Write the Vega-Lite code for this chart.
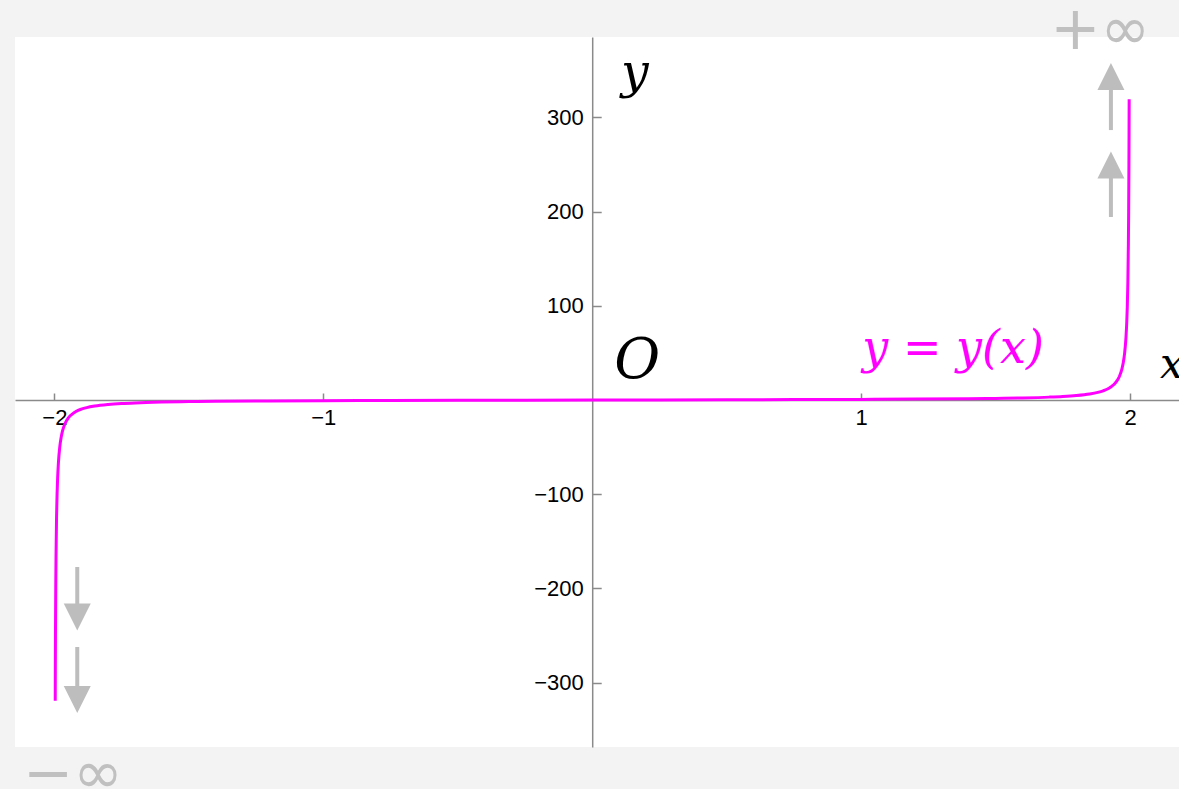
{
  "$schema": "https://vega.github.io/schema/vega-lite/v6.json",
  "width": 1164,
  "height": 710,
  "autosize": {"type": "none"},
  "padding": {"left": 15, "top": 37, "right": 0, "bottom": 42},
  "background": "#f3f3f3",
  "config": {"view": {"fill": "#ffffff", "stroke": null}},
  "datasets": {
    "curve": [
      {"x": -1.99687, "y": -319.2}, {"x": -1.9965, "y": -285.5}, {"x": -1.996, "y": -249.8},
      {"x": -1.995, "y": -199.8}, {"x": -1.994, "y": -166.4}, {"x": -1.992, "y": -124.8},
      {"x": -1.99, "y": -99.7}, {"x": -1.988, "y": -83.1}, {"x": -1.985, "y": -66.4},
      {"x": -1.98, "y": -49.7}, {"x": -1.975, "y": -39.7}, {"x": -1.97, "y": -33.1},
      {"x": -1.96, "y": -24.7}, {"x": -1.95, "y": -19.7}, {"x": -1.94, "y": -16.4},
      {"x": -1.92, "y": -12.2}, {"x": -1.9, "y": -9.74}, {"x": -1.88, "y": -8.08},
      {"x": -1.85, "y": -6.41}, {"x": -1.8, "y": -4.74}, {"x": -1.75, "y": -3.73},
      {"x": -1.7, "y": -3.06}, {"x": -1.6, "y": -2.22}, {"x": -1.5, "y": -1.71},
      {"x": -1.4, "y": -1.37}, {"x": -1.2, "y": -0.94}, {"x": -1.0, "y": -0.67},
      {"x": -0.75, "y": -0.44}, {"x": -0.5, "y": -0.27}, {"x": -0.25, "y": -0.13},
      {"x": 0, "y": 0},
      {"x": 0.25, "y": 0.13}, {"x": 0.5, "y": 0.27}, {"x": 0.75, "y": 0.44},
      {"x": 1.0, "y": 0.67}, {"x": 1.2, "y": 0.94}, {"x": 1.4, "y": 1.37},
      {"x": 1.5, "y": 1.71}, {"x": 1.6, "y": 2.22}, {"x": 1.7, "y": 3.06},
      {"x": 1.75, "y": 3.73}, {"x": 1.8, "y": 4.74}, {"x": 1.85, "y": 6.41},
      {"x": 1.88, "y": 8.08}, {"x": 1.9, "y": 9.74}, {"x": 1.92, "y": 12.2},
      {"x": 1.94, "y": 16.4}, {"x": 1.95, "y": 19.7}, {"x": 1.96, "y": 24.7},
      {"x": 1.97, "y": 33.1}, {"x": 1.975, "y": 39.7}, {"x": 1.98, "y": 49.7},
      {"x": 1.985, "y": 66.4}, {"x": 1.988, "y": 83.1}, {"x": 1.99, "y": 99.7},
      {"x": 1.992, "y": 124.8}, {"x": 1.994, "y": 166.4}, {"x": 1.995, "y": 199.8},
      {"x": 1.996, "y": 249.8}, {"x": 1.9965, "y": 285.5}, {"x": 1.99687, "y": 319.2}
    ],
    "shafts": [
      {"x": 1.929, "y": 286.6, "y2": 330.0},
      {"x": 1.929, "y": 194.3, "y2": 236.5},
      {"x": -1.915, "y": -177.3, "y2": -217.5},
      {"x": -1.915, "y": -262.2, "y2": -305.5}
    ],
    "heads": [
      {"x": 1.929, "y": 343.4, "dir": "up"},
      {"x": 1.929, "y": 249.5, "dir": "up"},
      {"x": -1.915, "y": -230.4, "dir": "down"},
      {"x": -1.915, "y": -317.9, "dir": "down"}
    ],
    "yLabel": [{"x": 0.107, "y": 331.2, "t": "y"}],
    "origin": [{"x": 0.082, "y": 23.4, "t": "O"}],
    "xLabel": [{"x": 2.112, "y": 23.4, "t": "x"}],
    "curveName": [{"x": 1.342, "y": 39.3, "t": "y = y(x)"}],
    "limits": [
      {"x": 1.89, "y": 373.1, "t": "+∞"},
      {"x": -1.93, "y": -417.5, "t": "−∞"}
    ]
  },
  "encoding": {
    "x": {
      "field": "x",
      "type": "quantitative",
      "scale": {"domain": [-2.1465, 2.1822], "nice": false, "zero": false},
      "axis": {
        "orient": "bottom",
        "offset": -347,
        "values": [-2, -1, 1, 2],
        "title": null,
        "grid": false,
        "domainColor": "#8a8a8a",
        "domainWidth": 1.5,
        "tickColor": "#8a8a8a",
        "tickWidth": 1.5,
        "tickSize": -7,
        "labelPadding": 14,
        "labelFont": "Liberation Sans",
        "labelFontSize": 22,
        "labelColor": "#000000",
        "labelFlush": false,
        "labelOverlap": false,
        "labelBound": false
      }
    },
    "y": {
      "field": "y",
      "type": "quantitative",
      "scale": {"domain": [-368.4, 385.4], "nice": false, "zero": false},
      "axis": {
        "orient": "left",
        "offset": -577.2,
        "values": [-300, -200, -100, 100, 200, 300],
        "title": null,
        "grid": false,
        "domainColor": "#8a8a8a",
        "domainWidth": 1.5,
        "tickColor": "#8a8a8a",
        "tickWidth": 1.5,
        "tickSize": -9,
        "labelPadding": 18,
        "labelFont": "Liberation Sans",
        "labelFontSize": 22,
        "labelColor": "#000000",
        "labelFlush": false,
        "labelOverlap": false,
        "labelBound": false
      }
    }
  },
  "layer": [
    {
      "data": {"name": "shafts"},
      "mark": {"type": "rule", "color": "#bdbdbd", "strokeWidth": 4},
      "encoding": {"y2": {"field": "y2"}}
    },
    {
      "data": {"name": "heads"},
      "mark": {"type": "point", "filled": true, "color": "#bdbdbd", "opacity": 1, "size": 729, "strokeWidth": 0},
      "encoding": {
        "shape": {
          "field": "dir",
          "type": "nominal",
          "scale": {"domain": ["up", "down"], "range": ["M0,-1L1,1L-1,1Z", "M-1,-1L1,-1L0,1Z"]},
          "legend": null
        }
      }
    },
    {
      "data": {"name": "curve"},
      "mark": {"type": "line", "color": "#ff00ff", "strokeWidth": 3, "interpolate": "monotone"}
    },
    {
      "data": {"name": "yLabel"},
      "mark": {"type": "text", "font": "DejaVu Serif", "fontStyle": "italic", "fontSize": 49, "align": "left", "baseline": "alphabetic", "color": "#000000"},
      "encoding": {"text": {"field": "t"}}
    },
    {
      "data": {"name": "origin"},
      "mark": {"type": "text", "font": "DejaVu Serif", "fontStyle": "italic", "fontSize": 56, "align": "left", "baseline": "alphabetic", "color": "#000000"},
      "encoding": {"text": {"field": "t"}}
    },
    {
      "data": {"name": "xLabel"},
      "mark": {"type": "text", "font": "DejaVu Serif", "fontStyle": "italic", "fontSize": 42, "align": "left", "baseline": "alphabetic", "color": "#000000"},
      "encoding": {"text": {"field": "t"}}
    },
    {
      "data": {"name": "curveName"},
      "mark": {"type": "text", "font": "DejaVu Serif", "fontStyle": "italic", "fontSize": 46, "align": "center", "baseline": "alphabetic", "color": "#ff00ff"},
      "encoding": {"text": {"field": "t"}}
    },
    {
      "data": {"name": "limits"},
      "mark": {"type": "text", "font": "DejaVu Sans", "fontSize": 60, "align": "center", "baseline": "alphabetic", "color": "#c0c0c0"},
      "encoding": {"text": {"field": "t"}}
    }
  ]
}
